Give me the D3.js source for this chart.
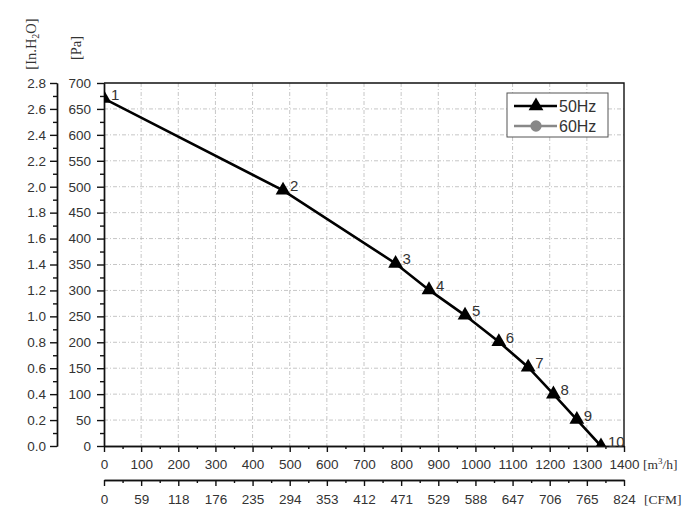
<!DOCTYPE html>
<html lang="en">
  <head>
    <meta charset="UTF-8" />
    <title>Fan curve</title>
    <script src="https://d3js.org/d3.v7.min.js"></script>
    <style>
      body {
        margin: 0;
        background-color: #ffffff;
        font-family: "Liberation Sans", Arial, sans-serif;
      }
      .axis text {
        font-size: 13.5px;
        fill: #333;
        font-family: "Liberation Sans", Arial, sans-serif;
      }
      .axis path, .axis line {
        stroke: #111;
        stroke-width: 1.4px;
      }
      .grid line {
        stroke: #b8b8b8;
        stroke-width: 0.8px;
        stroke-dasharray: 4 2 1 2;
      }
      .unit {
        font-family: "Liberation Serif", "Times New Roman", serif;
        font-size: 13.5px;
        fill: #333;
      }
      .unit.vertical {
        font-size: 14.5px;
      }
      .point-label {
        font-size: 15px;
        fill: #333;
      }
    </style>
  </head>
  <body>
    <div id="chart"></div>
    <script>
    // Data
    const flow = [0, 482, 785, 875, 972, 1063, 1142, 1210, 1273, 1338];      // m3/h
    const pressure = [670, 493, 352, 301, 252, 201, 152, 100, 51, 0];       // Pa
    const pointLabels = ["1", "2", "3", "4", "5", "6", "7", "8", "9", "10"];

    const flowTicks = [0, 100, 200, 300, 400, 500, 600, 700, 800, 900, 1000, 1100, 1200, 1300, 1400];
    const cfmLabels = ["0", "59", "118", "176", "235", "294", "353", "412", "471", "529", "588", "647", "706", "765", "824"];
    const paTicks = [0, 50, 100, 150, 200, 250, 300, 350, 400, 450, 500, 550, 600, 650, 700];
    const inH2OTicks = [0.0, 0.2, 0.4, 0.6, 0.8, 1.0, 1.2, 1.4, 1.6, 1.8, 2.0, 2.2, 2.4, 2.6, 2.8];
    const seriesNames = ["50Hz", "60Hz"];

    const width = 700, height = 531;
    const plotLeft = 104, plotRight = 624, plotTop = 83, plotBottom = 446;

    const svg = d3.select("#chart")
        .append("svg")
        .attr("width", width)
        .attr("height", height);

    // Scales
    const x = d3.scaleLinear().domain([0, 1400]).range([plotLeft, plotRight]);
    const y = d3.scaleLinear().domain([0, 700]).range([plotBottom, plotTop]);
    const yIn = d3.scaleLinear().domain([0, 2.8]).range([plotBottom, plotTop]);

    // Grid lines
    const grid = svg.append("g").attr("class", "grid");
    grid.selectAll(".gx")
        .data(flowTicks.slice(1, -1))
        .enter()
        .append("line")
        .attr("x1", d => x(d)).attr("x2", d => x(d))
        .attr("y1", plotTop).attr("y2", plotBottom);
    grid.selectAll(".gy")
        .data(paTicks.slice(1, -1))
        .enter()
        .append("line")
        .attr("x1", plotLeft).attr("x2", plotRight)
        .attr("y1", d => y(d)).attr("y2", d => y(d));

    // Frame (top and right)
    svg.append("path")
        .attr("d", `M${plotLeft},${plotTop}H${plotRight}V${plotBottom}`)
        .attr("fill", "none")
        .attr("stroke", "#111")
        .attr("stroke-width", 1.4);

    // Minor ticks
    const minorFlow = d3.range(50, 1400, 100);
    const minorPa = d3.range(25, 700, 50);
    const minorIn = d3.range(0.1, 2.8, 0.2);

    // Bottom m3/h axis
    svg.append("g")
        .attr("class", "axis")
        .attr("transform", `translate(0, ${plotBottom})`)
        .call(d3.axisBottom(x).tickValues(minorFlow).tickSize(3).tickSizeOuter(0).tickFormat(""));
    svg.append("g")
        .attr("class", "axis")
        .attr("transform", `translate(0, ${plotBottom})`)
        .call(d3.axisBottom(x).tickValues(flowTicks).tickSize(6).tickSizeOuter(0).tickPadding(7).tickFormat(d3.format("d")));

    // CFM axis
    const cfmY = 480;
    svg.append("g")
        .attr("class", "axis")
        .attr("transform", `translate(0, ${cfmY})`)
        .call(d3.axisBottom(x).tickValues(minorFlow).tickSize(3).tickSizeOuter(0).tickFormat(""));
    svg.append("g")
        .attr("class", "axis")
        .attr("transform", `translate(0, ${cfmY})`)
        .call(d3.axisBottom(x).tickValues(flowTicks).tickSize(6).tickSizeOuter(0).tickPadding(8)
            .tickFormat((d, i) => cfmLabels[i]));

    // Pa axis
    svg.append("g")
        .attr("class", "axis")
        .attr("transform", `translate(${plotLeft}, 0)`)
        .call(d3.axisLeft(y).tickValues(minorPa).tickSize(4).tickSizeOuter(0).tickFormat(""));
    svg.append("g")
        .attr("class", "axis")
        .attr("transform", `translate(${plotLeft}, 0)`)
        .call(d3.axisLeft(y).tickValues(paTicks).tickSize(7).tickSizeOuter(0).tickPadding(6).tickFormat(d3.format("d")));

    // In.H2O axis
    const inX = 57;
    svg.append("g")
        .attr("class", "axis")
        .attr("transform", `translate(${inX}, 0)`)
        .call(d3.axisLeft(yIn).tickValues(minorIn).tickSize(4).tickSizeOuter(0).tickFormat(""));
    svg.append("g")
        .attr("class", "axis")
        .attr("transform", `translate(${inX}, 0)`)
        .call(d3.axisLeft(yIn).tickValues(inH2OTicks).tickSize(7).tickSizeOuter(0).tickPadding(4).tickFormat(d3.format(".1f")));

    // Unit labels
    const inLabel = svg.append("text")
        .attr("class", "unit vertical")
        .attr("transform", `translate(36, 44) rotate(-90)`)
        .attr("text-anchor", "middle");
    inLabel.append("tspan").text("[In.H");
    inLabel.append("tspan").attr("font-size", "10px").attr("dy", 3).text("2");
    inLabel.append("tspan").attr("dy", -3).text("O]");

    svg.append("text")
        .attr("class", "unit vertical")
        .attr("transform", `translate(81, 48) rotate(-90)`)
        .attr("text-anchor", "middle")
        .text("[Pa]");

    const m3Label = svg.append("text")
        .attr("class", "unit")
        .attr("x", 643)
        .attr("y", 469);
    m3Label.append("tspan").text("[m");
    m3Label.append("tspan").attr("font-size", "9px").attr("dy", -5).text("3");
    m3Label.append("tspan").attr("dy", 5).text("/h]");

    svg.append("text")
        .attr("class", "unit")
        .attr("x", 644)
        .attr("y", 504)
        .text("[CFM]");

    // Series (clipped to the plot area)
    svg.append("clipPath")
        .attr("id", "plot-clip")
        .append("rect")
        .attr("x", plotLeft).attr("y", plotTop)
        .attr("width", plotRight - plotLeft).attr("height", plotBottom - plotTop);

    const series = svg.append("g").attr("clip-path", "url(#plot-clip)");
    const points = flow.map((f, i) => ({ f: f, p: pressure[i], label: pointLabels[i] }));

    series.append("path")
        .datum(points)
        .attr("fill", "none")
        .attr("stroke", "#000")
        .attr("stroke-width", 2.6)
        .attr("d", d3.line().x(d => x(d.f)).y(d => y(d.p)));

    const triangle = d3.symbol().type(d3.symbolTriangle).size(95);
    series.selectAll(".marker")
        .data(points)
        .enter()
        .append("path")
        .attr("class", "marker")
        .attr("d", triangle)
        .attr("transform", d => `translate(${x(d.f)}, ${y(d.p)})`)
        .attr("fill", "#000");

    svg.selectAll(".point-label")
        .data(points)
        .enter()
        .append("text")
        .attr("class", "point-label")
        .attr("x", d => x(d.f) + 7)
        .attr("y", d => y(d.p) + 1)
        .text(d => d.label);

    // Legend
    const legend = svg.append("g").attr("transform", "translate(507, 93)");
    legend.append("rect")
        .attr("width", 101).attr("height", 44)
        .attr("fill", "#fff")
        .attr("stroke", "#555")
        .attr("stroke-width", 1);
    const legendColors = ["#000", "#888"];
    seriesNames.forEach((name, i) => {
        const ly = 13 + i * 20;
        legend.append("line")
            .attr("x1", 7).attr("x2", 50)
            .attr("y1", ly).attr("y2", ly)
            .attr("stroke", legendColors[i])
            .attr("stroke-width", 2.6);
        legend.append("path")
            .attr("d", i === 0 ? triangle() : d3.symbol().type(d3.symbolCircle).size(100)())
            .attr("transform", `translate(29, ${ly})`)
            .attr("fill", legendColors[i]);
        legend.append("text")
            .attr("x", 52)
            .attr("y", ly + 6)
            .attr("font-size", "16px")
            .attr("fill", "#333")
            .text(name);
    });
    </script>
  </body>
</html>
